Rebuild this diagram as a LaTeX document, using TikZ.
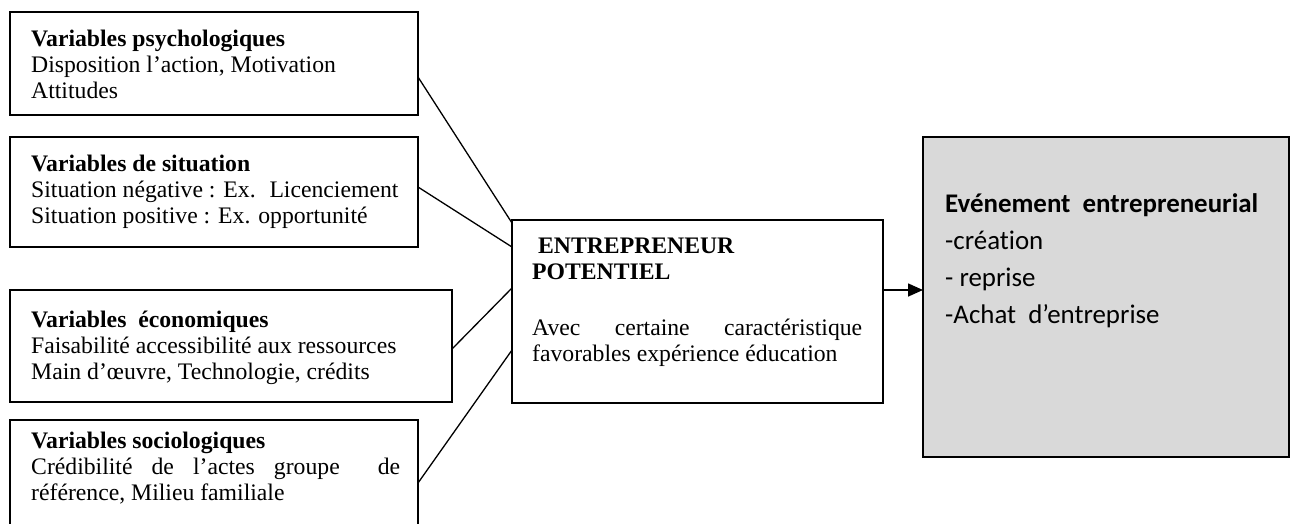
\documentclass[tikz,border=0pt]{standalone}
\usepackage{fontspec}
\setmainfont{Liberation Serif}
\newfontfamily\calfont[Ligatures=NoCommon]{Carlito}
\usetikzlibrary{arrows.meta}
\definecolor{eventgrey}{HTML}{D9D9D9}
\tikzset{
  varbox/.style={draw, line width=1.6pt, anchor=north west, inner sep=0pt, outer sep=0pt},
  txt/.style={anchor=base west, inner sep=0pt, font=\fontsize{23.7}{26}\selectfont},
  caltxt/.style={anchor=base west, inner sep=0pt, font=\calfont\fontsize{26.9}{37}\selectfont},
  link/.style={line width=1.3pt},
  flow/.style={line width=1.6pt, -{Triangle[length=15pt, width=13pt]}}
}
\begin{document}
\begin{tikzpicture}[x=1pt, y=-1pt]
\useasboundingbox (0,0) rectangle (1295,523);

% left column: the four groups of variables
\node[varbox, minimum width=408pt, minimum height=103pt] (b1) at (10,12) {};
\node[varbox, minimum width=408pt, minimum height=110pt] (b2) at (10,137) {};
\node[varbox, minimum width=442pt, minimum height=112pt] (b3) at (10,290) {};
\node[varbox, minimum width=408pt, minimum height=130pt] (b4) at (10,420) {};

\node[txt] (t1) at (31,46) {\vtop{\hbox{\textbf{Variables psychologiques}}\hbox{Disposition l’action, Motivation}\hbox{Attitudes}}};
\node[txt] (t2) at (31,171) {\vtop{\hbox{\textbf{Variables de situation}}\hbox{Situation négative : Ex.~ Licenciement}\hbox{Situation positive : Ex. opportunité}}};
\node[txt] (t3) at (31,327) {\vtop{\hbox{\textbf{Variables~ économiques}}\hbox{Faisabilité accessibilité aux ressources}\hbox{Main d’œuvre, Technologie, crédits}}};
\node[txt] (t4) at (31,448) {\vtop{\hbox{\textbf{Variables sociologiques}}\hbox to 369pt{Crédibilité\hfil de\hfil l’actes\hfil groupe\hfil\hfil de}\hbox{référence, Milieu familiale}}};

% centre: the potential entrepreneur
\node[varbox, minimum width=371pt, minimum height=183pt] (ep) at (512,220) {};
\node[txt] (te) at (532,253) {\vtop{\hbox{\textbf{\ ENTREPRENEUR}}\hbox{\textbf{POTENTIEL}}}};
\node[txt] (tf) at (532,335) {\vtop{\hbox to 330pt{Avec\hfil certaine\hfil caractéristique}\hbox{favorables expérience éducation}}};

% right: the entrepreneurial event
\node[varbox, fill=eventgrey, minimum width=366pt, minimum height=320pt] (ev) at (923,137) {};
\node[caltxt] (tv) at (945,212) {\vtop{\hbox{\textbf{Evénement~ entrepreneurial}}\hbox{-création}\hbox{- reprise}\hbox{-Achat~ d’entreprise}}};

% connectors
\coordinate (out) at ([yshift=21.5pt]ep.east);
\draw[link] ([yshift=-13.5pt]b1.east) -- ([yshift=88.5pt]ep.west);
\draw[link] ([yshift=5pt]b2.east) -- ([yshift=64.5pt]ep.west);
\draw[link] ([yshift=-3pt]b3.east) -- ([yshift=23.5pt]ep.west);
\draw[link] ([yshift=2pt]b4.east) -- ([yshift=-38.5pt]ep.west);
\draw[flow] (out) -- (out -| ev.west);
\end{tikzpicture}
\end{document}
